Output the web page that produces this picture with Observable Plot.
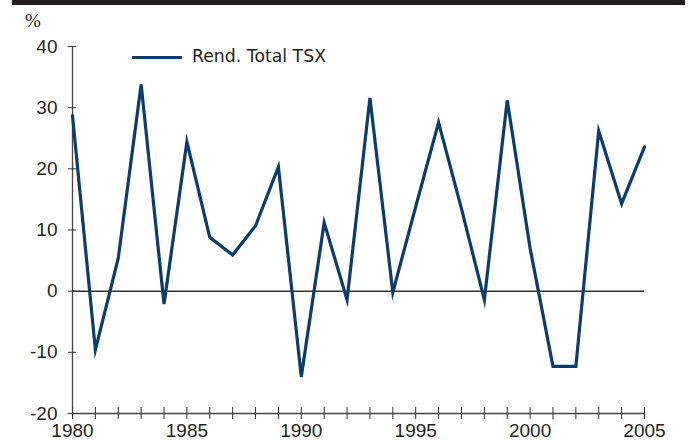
<!DOCTYPE html>
<html>
<head>
<meta charset="utf-8">
<script src="https://cdn.jsdelivr.net/npm/d3@7"></script>
<script src="https://cdn.jsdelivr.net/npm/@observablehq/plot@0.6"></script>
<style>
  html, body { margin: 0; padding: 0; background: #fff; }
  #wrap { position: relative; width: 688px; height: 446px; overflow: hidden; }
  #topbar { position: absolute; left: 12px; top: 0; width: 673px; height: 5px; background: #231f20; }
  #unit { position: absolute; left: 25px; top: 10px; font-family: "Liberation Serif", serif; font-size: 19px; color: #231f20; }
  #legend { position: absolute; left: 132px; top: 46px; display: flex; align-items: center; font-family: "DejaVu Sans", sans-serif; font-size: 17.3px; color: #231f20; }
  #legend .sw { width: 50px; height: 3.5px; background: #0b3c6e; margin-right: 10px; margin-top: 3px; }
</style>
</head>
<body>
<div id="wrap">
  <div id="chart"></div>
  <div id="topbar"></div>
  <div id="unit">%</div>
  <div id="legend"><span class="sw"></span><span>Rend. Total TSX</span></div>
</div>
<script>
const years = [1980, 1981, 1982, 1983, 1984, 1985, 1986, 1987, 1988, 1989,
               1990, 1991, 1992, 1993, 1994, 1995, 1996, 1997, 1998, 1999,
               2000, 2001, 2002, 2003, 2004, 2005];
const returns = [28.7, -9.6, 5.4, 33.8, -2.1, 24.4, 8.8, 5.9, 10.7, 20.3,
                 -14.0, 11.2, -1.4, 31.6, -0.2, 13.8, 27.6, 13.5, -1.4, 31.2,
                 7.0, -12.3, -12.3, 26.2, 14.3, 23.6];
const yTicks = [-20, -10, 0, 10, 20, 30, 40];
const xLabelTicks = [1980, 1985, 1990, 1995, 2000, 2005];
const seriesName = "Rend. Total TSX";

const data = years.map((y, i) => ({year: y, value: returns[i]}));

const chart = Plot.plot({
  width: 688,
  height: 446,
  marginLeft: 72,
  marginRight: 44,
  marginTop: 46,
  marginBottom: 33,
  style: {fontFamily: "Liberation Sans, Arial, sans-serif", fontSize: "19px", color: "#231f20", background: "#fff"},
  x: {domain: [1980, 2005]},
  y: {domain: [-20, 40]},
  marks: [
    Plot.ruleY([0], {stroke: "#333", strokeWidth: 1.5}),
    Plot.ruleX([1980], {stroke: "#444", strokeWidth: 1.3}),
    Plot.ruleY([-20], {stroke: "#444", strokeWidth: 1.3}),
    Plot.axisY(yTicks, {tickSize: 8, dx: 4, tickFormat: () => "", stroke: "#333", label: null}),
    Plot.axisY(yTicks, {tickSize: 0, tickPadding: 15, tickFormat: d => String(d), label: null, fill: "#231f20"}),
    Plot.axisX(years, {tickSize: 12, dy: -6, tickFormat: () => "", stroke: "#333", label: null}),
    Plot.axisX(xLabelTicks, {tickSize: 0, tickPadding: 10, tickFormat: d => String(d), label: null, fill: "#231f20"}),
    Plot.line(data, {x: "year", y: "value", stroke: "#0b3c6e", strokeWidth: 3.2, strokeLinejoin: "miter", strokeMiterlimit: 6})
  ]
});
document.getElementById("chart").appendChild(chart);
</script>
</body>
</html>
